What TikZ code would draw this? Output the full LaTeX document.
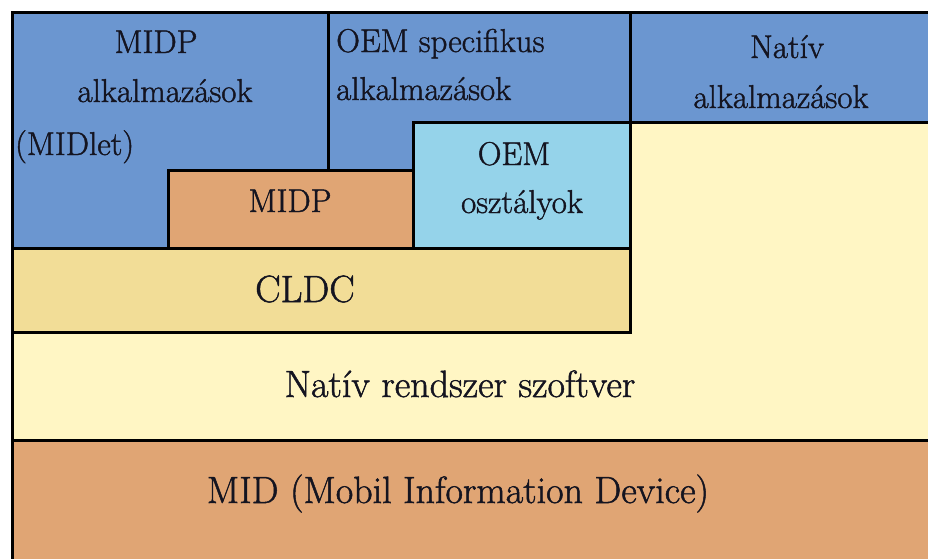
\documentclass[tikz,border=0pt]{standalone}
\usepackage{fontspec}
\newfontfamily\layerfont{Latin Modern Roman}[FakeBold=1.3]
\definecolor{midpblue}{HTML}{6B96D0}
\definecolor{midporange}{HTML}{E0A574}
\definecolor{oemcyan}{HTML}{95D3EA}
\definecolor{cldctan}{HTML}{F2DD97}
\definecolor{nativecream}{HTML}{FFF6C4}
\definecolor{labeldark}{HTML}{141420}
\usetikzlibrary{positioning}

\begin{document}
\begin{tikzpicture}[
  x=1pt, y=-1pt,
  layer/.style={draw=black, line width=3pt, line join=miter},
  toplabel/.style={anchor=base, text=labeldark, inner sep=0pt,
    font=\layerfont\fontsize{33}{40}\selectfont},
  biglabel/.style={anchor=base, text=labeldark, inner sep=0pt,
    font=\layerfont\fontsize{38}{46}\selectfont},
]
  \useasboundingbox (0,0) rectangle (928,558);

  % Bottom layers
  \path[layer, fill=midporange] (12,440) rectangle (934,564);
  \path[layer, fill=nativecream] (630,122) -- (934,122) -- (934,440)
    -- (12,440) -- (12,332) -- (630,332) -- cycle;
  \path[layer, fill=cldctan] (12,248) rectangle (630,332);

  % Application layers
  \path[layer, fill=midpblue] (12,12) -- (328,12) -- (328,170)
    -- (168,170) -- (168,248) -- (12,248) -- cycle;
  \path[layer, fill=midpblue] (328,12) -- (630,12) -- (630,122)
    -- (413,122) -- (413,170) -- (328,170) -- cycle;
  \path[layer, fill=midpblue] (630,12) rectangle (934,122);

  % Class libraries
  \path[layer, fill=midporange] (168,170) rectangle (413,248);
  \path[layer, fill=oemcyan] (413,122) rectangle (630,248);

  % Labels
  \node[toplabel] (midlettop) at (156,53) {MIDP};
  \node[toplabel] (midletmid) at (165,102) {alkalmazások};
  \node[toplabel, anchor=base west] (midletbot) at (15,155) {(MIDlet)};
  \node[toplabel, anchor=base west] (oemapptop) at (336,52) {OEM specifikus};
  \node[toplabel, anchor=base west] (oemappbot) at (336,100) {alkalmazások};
  \node[toplabel] (nativeapptop) at (787,58) {Natív};
  \node[toplabel] (nativeappbot) at (781,108) {alkalmazások};
  \node[toplabel] (midp) at (290,212) {MIDP};
  \node[toplabel] (oemtop) at (514,165) {OEM};
  \node[toplabel] (oembot) at (522,213) {osztályok};
  \node[biglabel] (cldc) at (305,302) {CLDC};
  \node[biglabel] (nativesys) at (460,397) {Natív rendszer szoftver};
  \node[biglabel] (mid) at (458,503) {MID (Mobil Information Device)};
\end{tikzpicture}
\end{document}
